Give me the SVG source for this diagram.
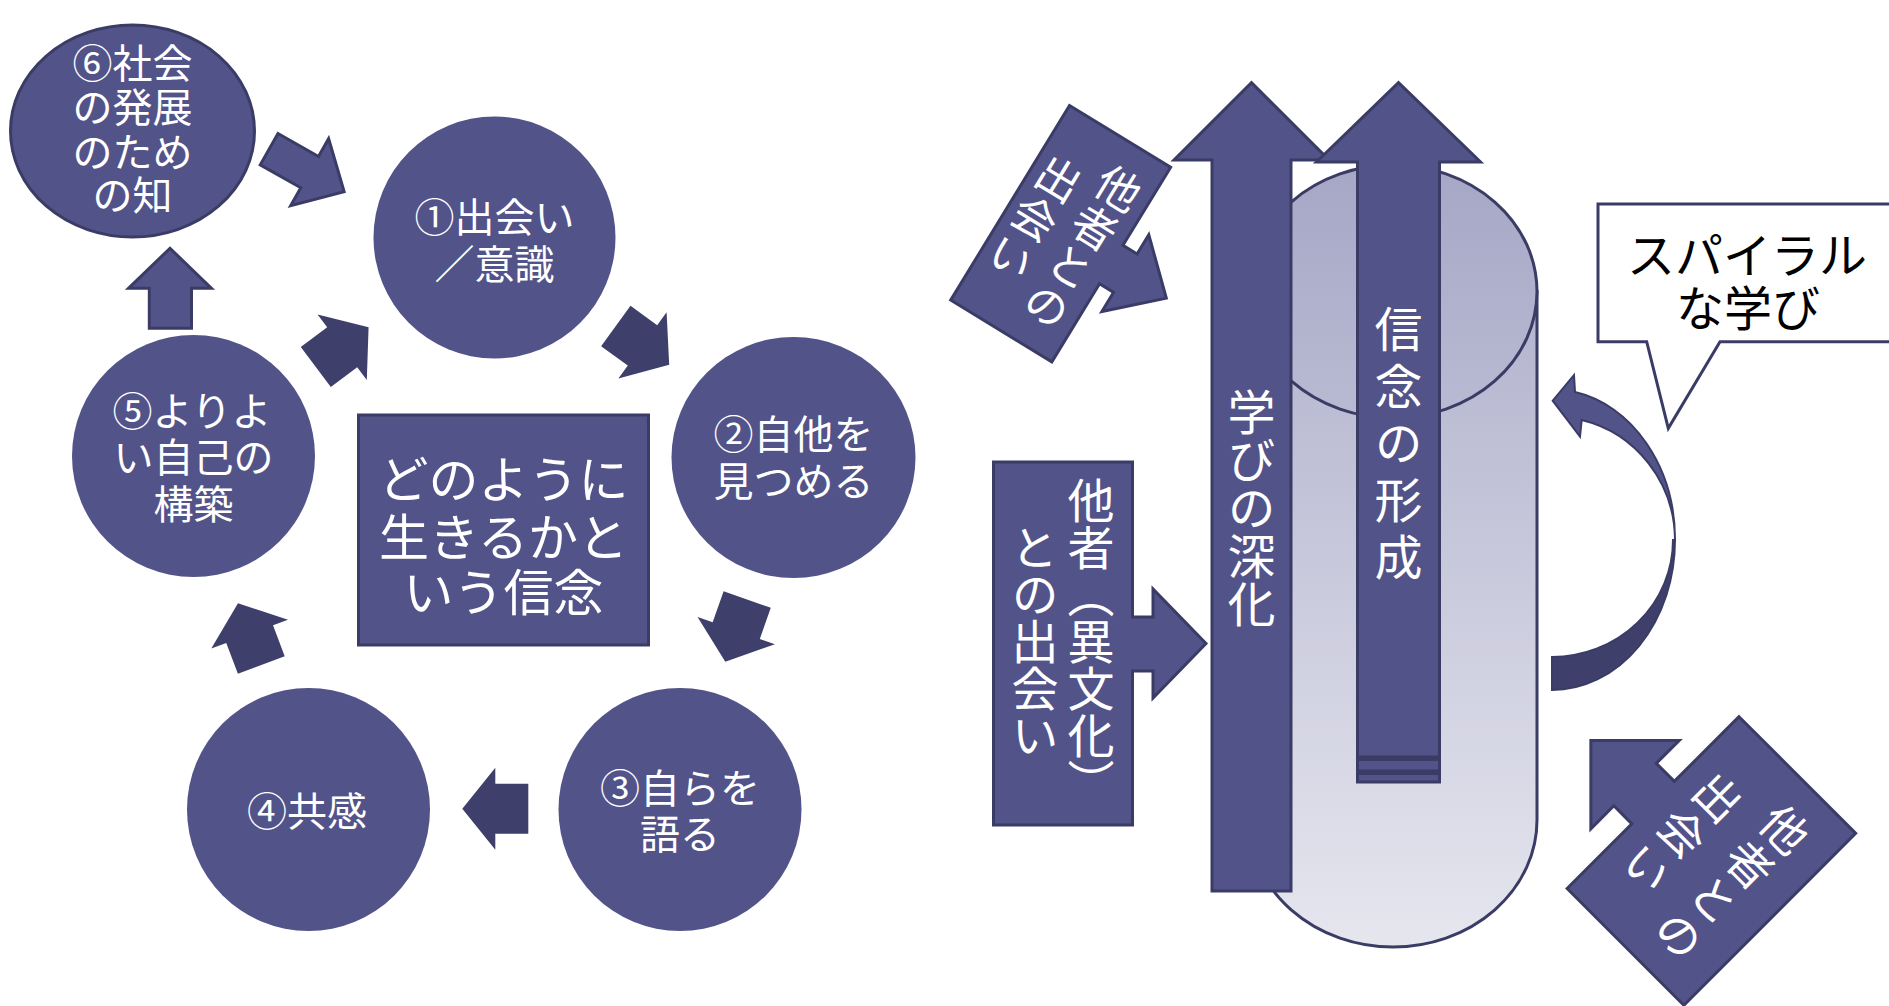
<svg xmlns="http://www.w3.org/2000/svg" width="1889" height="1006" viewBox="0 0 1889 1006">
<defs>
<style>
.node{fill:#525389;}
.outl{stroke:#3b3c66;stroke-width:3;stroke-linejoin:miter;}
.dark{fill:#3e3f6a;}
.t{font-family:"Noto Sans CJK JP","Noto Sans CJK SC",sans-serif;fill:#ffffff;text-anchor:middle;dominant-baseline:central;}
.c40{font-size:40px;}
.c50{font-size:50px;}
.v{writing-mode:vertical-rl;}
.blk{fill:#000000;}
</style>
<linearGradient id="gBody" x1="0" y1="0" x2="0" y2="1">
<stop offset="0" stop-color="#b3b4ce"/>
<stop offset="1" stop-color="#e6e6ef"/>
</linearGradient>
<linearGradient id="gTop" x1="0" y1="0" x2="0" y2="1">
<stop offset="0" stop-color="#a6a7c6"/>
<stop offset="1" stop-color="#b9bad2"/>
</linearGradient>
<path id="arw" d="M0,-25 H33 V-41 L66,0 L33,41 V25 H0 Z"/>
</defs>

<g id="connectors">
<path id="a61" class="node outl" transform="translate(269.1,149.2) rotate(29.5)" d="M0,-18 H46.6 V-38.5 L86.2,0 L46.6,38.5 V18 H0 Z"/>
<path id="a56" class="node outl" d="M149.3,328.3 V288.3 H128.5 L170,248.3 L211.4,288.3 H191.5 V328.3 Z"/>
<use id="a51" href="#arw" class="dark" transform="translate(315.8,367) rotate(-36.9)"/>
<use id="a12" href="#arw" class="dark" transform="translate(615.8,326) rotate(36)"/>
<use id="a23" href="#arw" class="dark" transform="translate(747.2,599.5) rotate(109.4)"/>
<use id="a34" href="#arw" class="dark" transform="translate(528.3,808.7) rotate(180)"/>
<use id="a45" href="#arw" class="dark" transform="translate(261.3,665) rotate(-110.7)"/>
</g>

<g id="n6">
<ellipse class="node outl" cx="132.5" cy="131" rx="122" ry="106"/>
<text class="t c40"><tspan x="132.5" y="61">⑥社会</tspan><tspan x="132.5" y="105">の発展</tspan><tspan x="132.5" y="150">のため</tspan><tspan x="132.5" y="193">の知</tspan></text>
</g>
<g id="n1">
<ellipse class="node" cx="494.5" cy="237.5" rx="121" ry="121"/>
<text class="t c40"><tspan x="494.5" y="215">①出会い</tspan><tspan x="494.5" y="262">／意識</tspan></text>
</g>
<g id="n2">
<ellipse class="node" cx="793.5" cy="457.5" rx="122" ry="120.5"/>
<text class="t c40"><tspan x="793.5" y="432">②自他を</tspan><tspan x="793.5" y="479">見つめる</tspan></text>
</g>
<g id="n3">
<ellipse class="node" cx="680" cy="809.5" rx="121.5" ry="121.5"/>
<text class="t c40"><tspan x="680" y="786">③自らを</tspan><tspan x="680" y="832">語る</tspan></text>
</g>
<g id="n4">
<ellipse class="node" cx="308.5" cy="809.5" rx="121.5" ry="121.5"/>
<text class="t c40" x="307" y="809">④共感</text>
</g>
<g id="n5">
<ellipse class="node" cx="193.5" cy="456" rx="121.5" ry="121"/>
<text class="t c40"><tspan x="192" y="409">⑤よりよ</tspan><tspan x="193.5" y="455">い自己の</tspan><tspan x="193.5" y="502">構築</tspan></text>
</g>
<g id="center">
<rect class="node outl" x="358.5" y="415" width="290" height="230"/>
<text class="t c50"><tspan x="503.5" y="476">どのように</tspan><tspan x="503.5" y="534">生きるかと</tspan><tspan x="503.5" y="589">いう信念</tspan></text>
</g>

<g id="cylinder">
<path fill="url(#gBody)" class="outl" d="M1249,291.5 V820 A144,127 0 0 0 1537,820 V291.5 Z"/>
<ellipse fill="url(#gTop)" class="outl" cx="1393" cy="291.5" rx="144" ry="126.5"/>
</g>

<g id="deepen">
<path class="node outl" d="M1212,891 V160 H1174 L1251.5,82.7 L1329,160 H1291 V891 Z"/>
<text class="t v" style="font-size:48px" x="1251.5" y="507.5">学びの深化</text>
</g>

<g id="belief">
<path class="node outl" d="M1357.5,757 V162 H1316.5 L1398.5,82.7 L1480.5,162 H1439.5 V757 Z"/>
<rect class="node outl" x="1357.5" y="759.5" width="82" height="11.5"/>
<rect class="node outl" x="1357.5" y="773.5" width="82" height="8.5"/>
<text class="t v" style="font-size:48px;letter-spacing:9px" x="1398.5" y="447.5">信念の形成</text>
</g>

<g id="other-culture">
<path class="node outl" d="M993.5,462 H1132.5 V617 H1153 V589 L1206,643.5 L1153,698 V671 H1132.5 V825 H993.5 Z"/>
<text class="t v" style="font-size:47px"><tspan x="1091" y="641">他者（異文化）</tspan><tspan x="1035" y="641">との出会い</tspan></text>
</g>

<g id="other-top" transform="translate(1069.5,105.5) rotate(31.4)">
<path class="node outl" d="M0,0 H118.5 V91.5 H135 V69 L183,114 L135,159 V136.5 H118.5 V228 H0 Z"/>
<text class="t v" style="font-size:44px;letter-spacing:2px"><tspan x="85" y="115">他者との</tspan><tspan x="29" y="115">出会い</tspan></text>
</g>

<g id="other-bottom" transform="translate(1739,716.7) rotate(45)">
<path class="node outl" d="M0,0 H165 V243 H0 V151.5 H-25.5 V184 L-88,121.5 L-25.5,59 V91.5 H0 Z"/>
<text class="t v" style="font-size:46px;letter-spacing:4px"><tspan x="112" y="124">他者との</tspan><tspan x="42" y="124">出会い</tspan></text>
</g>

<g id="spiral-arrow">
<path class="node" stroke="#3b3c66" stroke-width="2" d="M1574,375 L1575,392 A123,150 0 0 1 1675,540 A121,124 0 0 0 1581.7,420 L1580,436.7 L1552.7,400.7 Z"/>
<path class="dark" stroke="#3b3c66" stroke-width="2" d="M1675,540 A123,150 0 0 1 1552,690 L1552,657 A121,117 0 0 0 1673,540 Z"/>
</g>

<g id="callout">
<path fill="#ffffff" class="outl" d="M1598,204 H1895 V341.7 H1720 L1668.3,428.3 L1646.7,341.7 H1598 Z"/>
<text class="t blk" style="font-size:48px"><tspan x="1747" y="252">スパイラル</tspan><tspan x="1748" y="305">な学び</tspan></text>
</g>
</svg>
